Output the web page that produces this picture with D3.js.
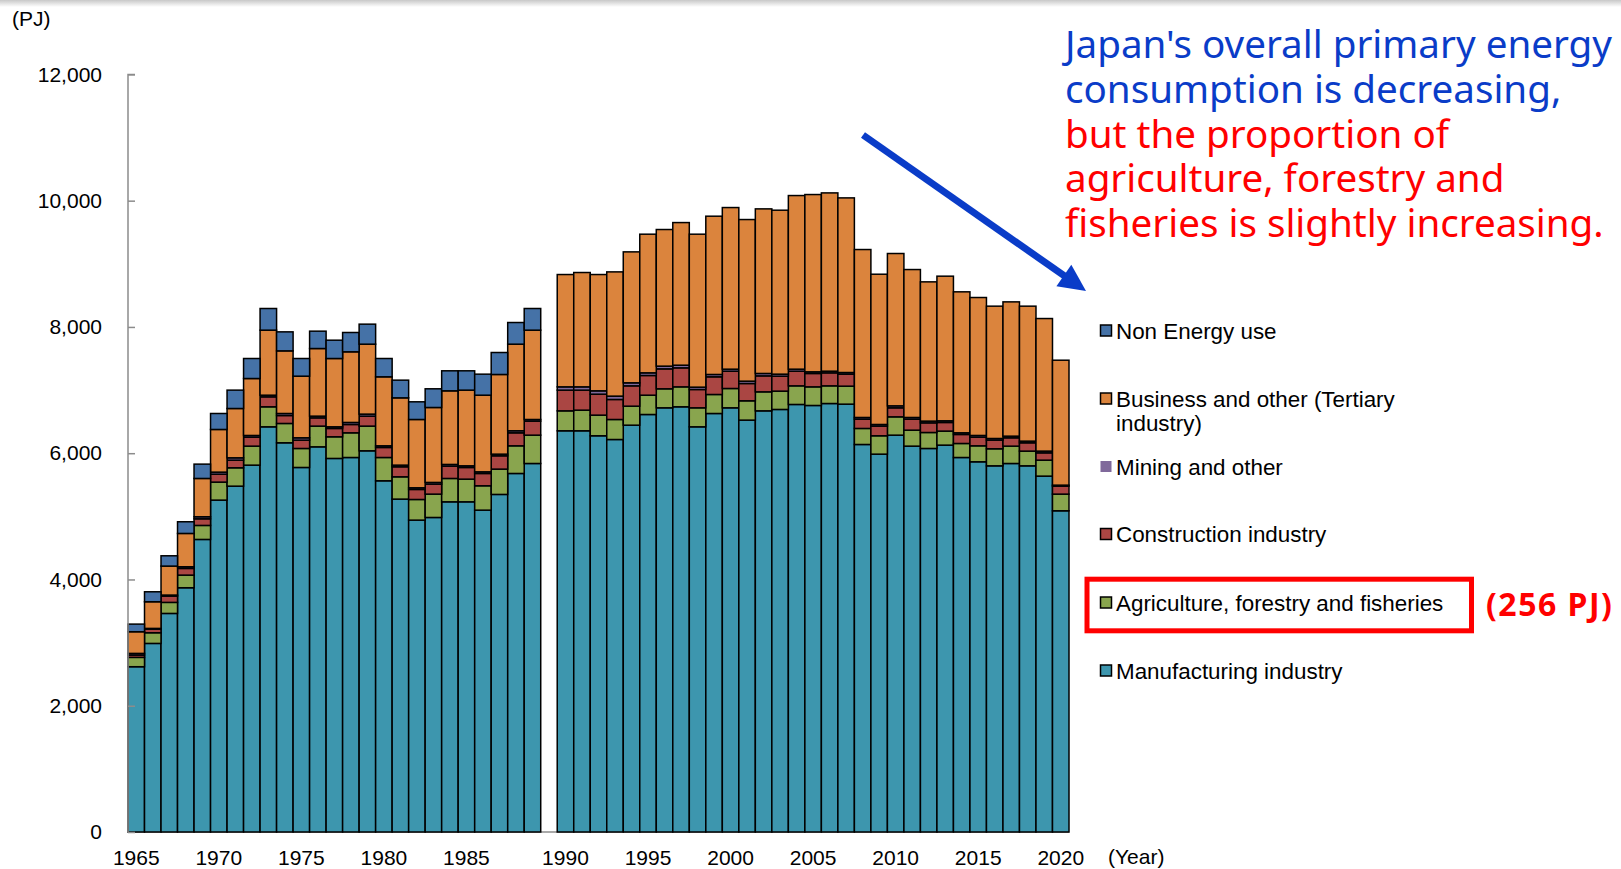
<!DOCTYPE html>
<html>
<head>
<meta charset="utf-8">
<script src="https://cdn.jsdelivr.net/npm/d3@7/dist/d3.min.js"></script>
<style>
  html, body { margin: 0; padding: 0; background: #ffffff; }
  svg { display: block; }
</style>
</head>
<body>
<svg id="chart" width="1621" height="869"></svg>
<script>
// ---------------- DATA ----------------
const categories = [
  "1965","1966","1967","1968","1969","1970","1971","1972","1973","1974",
  "1975","1976","1977","1978","1979","1980","1981","1982","1983","1984",
  "1985","1986","1987","1988","1989","",
  "1990","1991","1992","1993","1994","1995","1996","1997","1998","1999",
  "2000","2001","2002","2003","2004","2005","2006","2007","2008","2009",
  "2010","2011","2012","2013","2014","2015","2016","2017","2018","2019","2020"
];
const tickLabels = ["1965","1970","1975","1980","1985","1990","1995","2000","2005","2010","2015","2020"];
const yTicks = [0, 2000, 4000, 6000, 8000, 10000, 12000];

const manufacturing = [2618,2987,3462,3869,4634,5257,5478,5811,6418,6165,5774,6101,5917,5932,6038,5563,5273,4940,4982,5230,5230,5098,5347,5679,5837, null,
  6355,6355,6276,6217,6444,6613,6719,6735,6418,6629,6719,6524,6671,6693,6772,6756,6787,6777,6138,5985,6286,6112,6075,6128,5932,5864,5800,5837,5800,5637,5088];
const agriculture = [148,169,175,200,222,285,291,301,317,306,301,328,343,391,391,369,353,327,370,370,359,386,401,438,449, null,
  316,327,327,317,301,306,301,316,301,301,306,306,301,290,295,295,280,285,254,291,290,253,253,222,222,253,270,275,233,253,264];
const construction = [37,58,100,106,105,126,121,142,158,126,132,131,132,132,158,159,159,159,158,195,185,195,211,206,222, null,
  328,317,332,317,322,312,316,301,290,280,274,274,253,237,232,212,206,190,147,153,143,174,153,137,143,137,137,132,132,116,126];
const mining = [26,11,16,26,32,32,37,27,26,32,37,27,26,32,32,26,26,26,27,27,26,26,26,32,26, null,
  52,52,53,53,48,42,43,42,37,37,32,37,38,32,32,26,26,26,27,26,31,27,27,26,26,27,26,26,26,27,16];
const business = [343,422,459,528,607,676,781,902,1030,992,976,1071,1082,1119,1108,1093,1066,1082,1187,1166,1199,1214,1262,1372,1415, null,
  1779,1811,1842,1968,2074,2196,2164,2259,2423,2507,2560,2560,2607,2597,2750,2808,2824,2766,2660,2380,2413,2343,2206,2291,2233,2185,2096,2127,2138,2100,1979];
const nonEnergy = [121,158,163,185,227,253,291,317,343,301,280,275,290,306,317,290,280,280,296,317,306,333,348,343,343, null,
  0,0,0,0,0,0,0,0,0,0,0,0,0,0,0,0,0,0,0,0,0,0,0,0,0,0,0,0,0,0,0];

const seriesKeys = ["manufacturing","agriculture","construction","mining","business","nonEnergy"];
const seriesData = {manufacturing, agriculture, construction, mining, business, nonEnergy};
const seriesColors = {
  manufacturing: "#3D96AE", agriculture: "#89A54E", construction: "#AA4643",
  mining: "#80699B", business: "#DB843D", nonEnergy: "#4572A7"
};
const legendItems = [
  {key: "nonEnergy", lines: ["Non Energy use"]},
  {key: "business", lines: ["Business and other (Tertiary", "industry)"]},
  {key: "mining", lines: ["Mining and other"]},
  {key: "construction", lines: ["Construction industry"]},
  {key: "agriculture", lines: ["Agriculture, forestry and fisheries"]},
  {key: "manufacturing", lines: ["Manufacturing industry"]}
];
const annotationLines = [
  {text: "Japan's overall primary energy", color: "#0A3CC8"},
  {text: "consumption is decreasing,", color: "#0A3CC8"},
  {text: "but the proportion of", color: "#FF0000"},
  {text: "agriculture, forestry and", color: "#FF0000"},
  {text: "fisheries is slightly increasing.", color: "#FF0000"}
];

// ---------------- CHART ----------------
const svg = d3.select("#chart");
const chartFont = "'Liberation Sans', Arial, sans-serif";

// top shadow
const defs = svg.append("defs");
const grad = defs.append("linearGradient").attr("id","topShade").attr("x1",0).attr("y1",0).attr("x2",0).attr("y2",1);
grad.append("stop").attr("offset","0%").attr("stop-color","#c8c8c8");
grad.append("stop").attr("offset","100%").attr("stop-color","#ffffff");
svg.append("rect").attr("x",0).attr("y",0).attr("width",1621).attr("height",7).attr("fill","url(#topShade)");

const x = d3.scaleBand().domain(categories).range([128, 1069]).padding(0);
const y = d3.scaleLinear().domain([0, 12000]).range([832, 74.4]);

const rows = categories.map((c, i) => {
  const r = {cat: c};
  seriesKeys.forEach(k => r[k] = seriesData[k][i] == null ? 0 : seriesData[k][i]);
  return r;
});
const stacked = d3.stack().keys(seriesKeys)(rows);

// x baseline
svg.append("line").attr("x1", 128).attr("x2", 1069).attr("y1", y(0)).attr("y2", y(0))
  .attr("stroke", "#8c8c8c").attr("stroke-width", 1.5);

// bars
const layers = svg.append("g").selectAll("g").data(stacked).join("g")
  .attr("fill", d => seriesColors[d.key]);
layers.selectAll("rect")
  .data(d => d.filter(p => p.data.cat !== "" && (p[1] - p[0]) > 0))
  .join("rect")
  .attr("x", p => x(p.data.cat))
  .attr("width", x.bandwidth())
  .attr("y", p => y(p[1]))
  .attr("height", p => y(p[0]) - y(p[1]))
  .attr("stroke", "#000")
  .attr("stroke-width", 1.5);

// y axis
const yAxis = d3.axisRight(y).tickValues(yTicks).tickSize(7).tickFormat(d3.format(","));
const yG = svg.append("g").attr("transform", "translate(128,0)").call(yAxis);
yG.select(".domain").attr("stroke", "#8c8c8c").attr("stroke-width", 1.5).attr("d", `M7,${y(12000)}H0V${y(0)}`);
yG.selectAll(".tick line").attr("stroke", "#8c8c8c").attr("stroke-width", 1.5);
yG.selectAll(".tick text").attr("x", -26).attr("text-anchor", "end")
  .attr("font-family", chartFont).attr("font-size", 21).attr("fill", "#000");

// x axis labels
const xAxis = d3.axisBottom(x).tickValues(tickLabels).tickSize(0).tickPadding(0);
const xG = svg.append("g").attr("transform", `translate(0,${y(0)})`).call(xAxis);
xG.select(".domain").remove();
xG.selectAll(".tick text").attr("y", 26).attr("dy", "0.35em")
  .attr("font-family", chartFont).attr("font-size", 21).attr("fill", "#000");

// units
svg.append("text").attr("x", 12).attr("y", 19).attr("dy", "0.35em")
  .attr("font-family", chartFont).attr("font-size", 21).text("(PJ)");
svg.append("text").attr("x", 1108).attr("y", 857).attr("dy", "0.35em")
  .attr("font-family", chartFont).attr("font-size", 21).text("(Year)");

// legend
const legendY = [331, 399, 467, 534.5, 603, 671];
const lg = svg.append("g");
legendItems.forEach((it, i) => {
  const cy = legendY[i];
  const g = lg.append("g");
  g.append("rect").attr("x", 1100.5).attr("y", cy - 6).attr("width", 11).attr("height", 11)
    .attr("fill", seriesColors[it.key])
    .attr("stroke", it.key === "mining" ? "none" : "#000").attr("stroke-width", 1.5);
  const t = g.append("text").attr("x", 1116).attr("y", cy).attr("dy", "0.35em")
    .attr("font-family", chartFont).attr("font-size", 22.4).attr("fill", "#000");
  it.lines.forEach((ln, j) => {
    t.append("tspan").attr("x", 1116).attr("dy", j === 0 ? "0.35em" : 24).text(ln);
  });
});

// highlight box
svg.append("rect").attr("x", 1087).attr("y", 579.2).attr("width", 384.5).attr("height", 51.6)
  .attr("fill", "none").attr("stroke", "#FF0000").attr("stroke-width", 5);
svg.append("text").attr("x", 1486).attr("y", 605).attr("dy", "0.35em")
  .attr("font-family", "'Noto Sans', 'Open Sans', sans-serif").attr("font-weight", "bold")
  .attr("font-size", 32).attr("letter-spacing", 1.5).attr("fill", "#FF0000").text("(256 PJ)");

// annotation text (one text block, one line per tspan)
const baselines = [58.3, 103, 147.7, 192.4, 237];
const ann = svg.append("text").attr("x", 1065)
  .attr("font-family", "'Noto Sans', 'Open Sans', sans-serif").attr("font-size", 38.6);
annotationLines.forEach((l, i) => {
  ann.append("tspan").attr("x", 1065).attr("y", baselines[i]).attr("fill", l.color).text(l.text);
});

// arrow
const start = [863, 135], tip = [1086, 291];
const dx = tip[0] - start[0], dy = tip[1] - start[1];
const len = Math.hypot(dx, dy), ux = dx / len, uy = dy / len;
const headLen = 27, headHalf = 13;
const base = [tip[0] - ux * headLen, tip[1] - uy * headLen];
svg.append("line").attr("x1", start[0]).attr("y1", start[1]).attr("x2", base[0] + ux * 2).attr("y2", base[1] + uy * 2)
  .attr("stroke", "#0A3CC8").attr("stroke-width", 7);
svg.append("path").attr("fill", "#0A3CC8").attr("d",
  `M${tip[0]},${tip[1]}L${base[0] - uy * headHalf},${base[1] + ux * headHalf}L${base[0] + uy * headHalf},${base[1] - ux * headHalf}Z`);
</script>
</body>
</html>
